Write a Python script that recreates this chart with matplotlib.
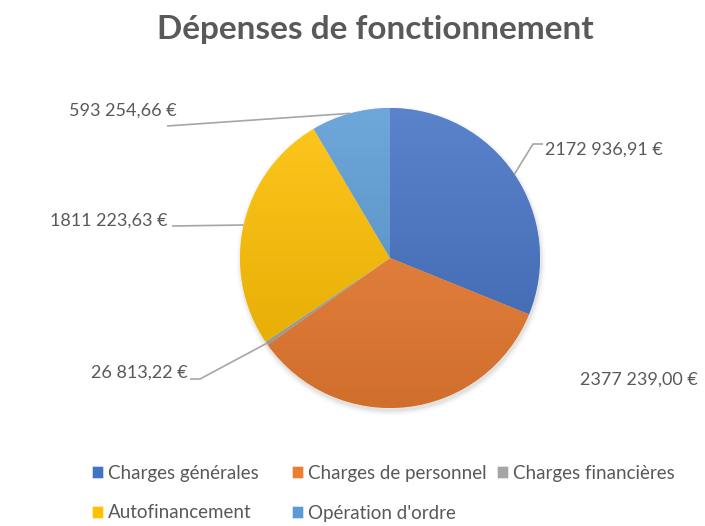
import numpy as np
import matplotlib
matplotlib.use("Agg")
import matplotlib.pyplot as plt
from matplotlib.colors import to_rgb
from matplotlib.patches import Circle

categories = ["Charges générales", "Charges de personnel", "Charges financières",
              "Autofinancement", "Opération d'ordre"]
values = [2172936.91, 2377239.00, 26813.22, 1811223.63, 593254.66]
value_labels = ["2172 936,91 €", "2377 239,00 €", "26 813,22 €",
                "1811 223,63 €", "593 254,66 €"]
colors = ["#4472C4", "#ED7D31", "#A5A5A5", "#FFC000", "#5B9BD5"]

plt.rcParams['font.family'] = ['Lato', 'DejaVu Sans']
TXT = "#595959"

W, H = 705, 526
fig = plt.figure(figsize=(W / 100, H / 100), dpi=100)
ax = fig.add_axes([0, 0, 1, 1])

cx, cy, R = 390, H - 258, 150

# soft shadow
for i, a in enumerate(np.linspace(0.04, 0.008, 5)):
    ax.add_patch(Circle((cx + 1, cy - 3), R + 0.5 + i * 1.2, color="black",
                        alpha=a, lw=0, zorder=0))

wedges, _ = ax.pie(values, colors=colors, startangle=90, counterclock=False,
                   center=(cx, cy), radius=R, frame=True,
                   wedgeprops=dict(linewidth=0.6, edgecolor=(1, 1, 1, 0.5)))

# vertical gradient fill for each slice
n = 256
t = np.linspace(0, 1, n)[:, None]
for w, c in zip(wedges, colors):
    base = np.array(to_rgb(c))
    top = base + (1 - base) * 0.12
    bot = base * 0.88
    grad = (top[None, :] * (1 - t) + bot[None, :] * t)[:, None, :]
    im = ax.imshow(grad, extent=(cx - R, cx + R, cy - R, cy + R),
                   origin='upper', aspect='auto', zorder=2)
    im.set_clip_path(w)

# labels (pixel positions from top-left)
label_pos = [(545, 150, 'left'), (580, 380, 'left'), (188, 373, 'right'),
             (168, 221, 'right'), (177, 111, 'right')]
leaders = {0: [(533, 144), (543, 144)],
           2: [(200, 379), (190, 379)],
           3: [(172, 226)],
           4: [(167, 126)]}

for i, w in enumerate(wedges):
    x, y, ha = label_pos[i]
    ax.text(x, H - y, value_labels[i], ha=ha, va='center', fontsize=13,
            color=TXT, zorder=5)
    if i in leaders:
        mid = np.deg2rad((w.theta1 + w.theta2) / 2)
        pts = [(cx + R * np.cos(mid), cy + R * np.sin(mid))]
        pts += [(px, H - py) for px, py in leaders[i]]
        xs, ys = zip(*pts)
        ax.plot(xs, ys, color="#a6a6a6", lw=1.2, zorder=4, solid_capstyle='butt')

ax.text(375, H - 29, "Dépenses de fonctionnement", ha='center', va='center',
        fontsize=24, fontweight='bold', color=TXT)

leg_kw = dict(loc='upper left', bbox_transform=fig.transFigure, frameon=False,
              handlelength=0.6, handleheight=0.6, handletextpad=0.25,
              labelspacing=1.2, fontsize=13.5, labelcolor=TXT, borderpad=0,
              borderaxespad=0)
order = [0, 3, 1, 4]
leg1 = ax.legend([wedges[k] for k in order], [categories[k] for k in order],
                 bbox_to_anchor=(92 / W, 1 - 465 / H), ncol=2,
                 columnspacing=1.77, **leg_kw)
ax.add_artist(leg1)
leg2 = ax.legend([wedges[2]], [categories[2]],
                 bbox_to_anchor=(497 / W, 1 - 465 / H), ncol=1, **leg_kw)

ax.set_xlim(0, W)
ax.set_ylim(0, H)
ax.set_aspect('equal')
ax.axis('off')

fig.savefig("out.png", dpi=100, facecolor="white")
